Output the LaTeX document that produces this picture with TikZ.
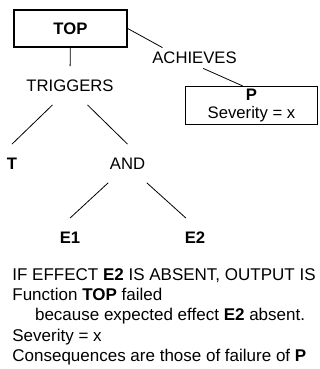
\documentclass[tikz,border=0pt]{standalone}
\usepackage{fontspec}
\setmainfont{Liberation Sans}
\tikzset{word/.style={font=\fontsize{12.5}{15}\selectfont, minimum height=28.5pt, inner sep=1pt},
    tag/.style={font=\fontsize{12.5}{15}\selectfont, minimum height=15pt, inner sep=1pt},
    fnbox/.style={draw, line width=1.5pt, minimum width=85pt, minimum height=27.5pt,
        font=\fontsize{12.5}{15}\selectfont\bfseries},
    effbox/.style={draw, line width=0.75pt, minimum width=99pt, minimum height=28.5pt,
        align=center, inner sep=1pt, font=\fontsize{12.5}{13}\selectfont}}

\begin{document}
\begin{tikzpicture}[x=0.75pt, y=-0.75pt, line width=0.6pt]
    \useasboundingbox (0,0) rectangle (320,369);

    \node (top) [fnbox] at (70.4,28.7) {TOP};
    \node (trig) [word] at (70,85.5) {TRIGGERS};
    \node (ach) [tag] at (194.5,58) {ACHIEVES};
    \node (p) [effbox] at (251.5,105.5) {\textbf{P}\\Severity = x};

    \node (t) [word] at (12,163.5) {\textbf{T}};
    \node (and) [word] at (127.5,163.5) {AND};
    \node (e1) [word] at (70,237.5) {\textbf{E1}};
    \node (e2) [word] at (195,237.5) {\textbf{E2}};

    \draw (top) edge (trig);
    \draw (top.east) edge (ach.162);
    \draw (ach.310) edge (p.114);

    \draw (trig.228) edge (t.north);
    \draw (trig.312) edge (and.north);
    \draw (and.225) edge (e1.north);
    \draw (and.315) edge (e2.115);

    \node (msg) [anchor=north west, inner sep=0pt, align=left,
            font=\fontsize{12.75}{15.2}\selectfont] at (12,268)
        {IF EFFECT \textbf{E2} IS ABSENT, OUTPUT IS\\
         Function \textbf{TOP} failed\\
         \hspace*{17pt}because expected effect \textbf{E2} absent.\\
         Severity = x\\
         Consequences are those of failure of \textbf{P}};
\end{tikzpicture}
\end{document}
